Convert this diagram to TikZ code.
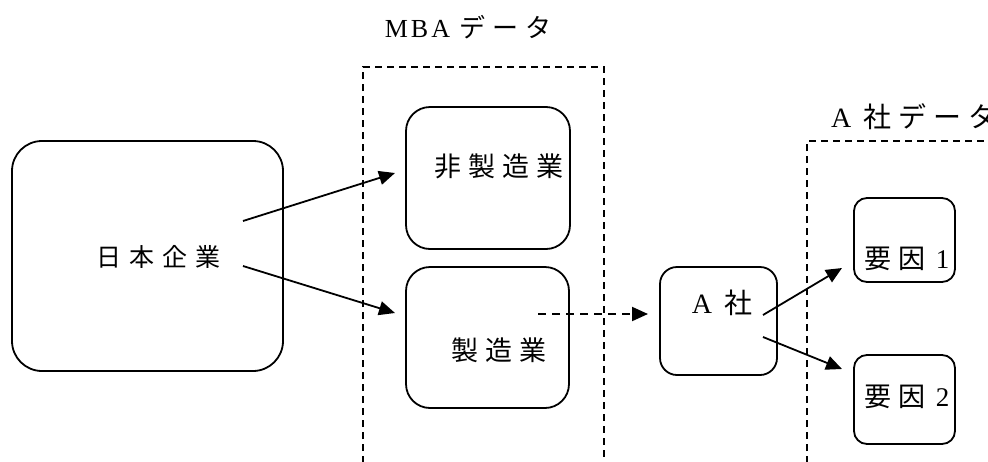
\documentclass[tikz,border=0pt]{standalone}
\usepackage{fontspec}
\setmainfont{Liberation Serif}
\newfontfamily\cjk{Noto Sans CJK JP}
\usetikzlibrary{arrows.meta}
\newcommand{\gp}{\hspace{7pt}}
\tikzset{
  box/.style={draw, line width=1.8pt, inner sep=0pt},
  txt/.style={inner sep=0pt, font=\fontsize{27}{29}\selectfont},
  conn/.style={line width=1.8pt, -{Triangle[length=16pt,width=14pt]}},
  dconn/.style={line width=2pt, dash pattern=on 8pt off 6pt, -{Triangle[length=16pt,width=14pt]}},
  frame/.style={line width=1.6pt, dash pattern=on 7pt off 5pt},
}
\begin{document}
\begin{tikzpicture}[x=1pt,y=-1pt]
\useasboundingbox (0,0) rectangle (988,461);
% dashed data frames
\draw[frame] (363,475) -- (363,67) -- (604,67) -- (604,475);
\draw[frame] (807,475) -- (807,141) -- (1000,141);
% titles
\node[txt, font=\fontsize{26}{28}\selectfont] (mbat) at (468,27) {M\hspace{3pt}B\hspace{3pt}A\hspace{9pt}{\cjk デ\gp ー\gp タ}};
\node[txt, anchor=west, font=\fontsize{28}{30}\selectfont] (asht) at (831,117) {A\hspace{12pt}{\cjk 社\hspace{7pt}デ\hspace{7pt}ー\hspace{7pt}タ}};
% boxes
\node[box, minimum width=271pt, minimum height=230pt, rounded corners=30pt] (jp) at (147.5,256) {};
\node[box, minimum width=164pt, minimum height=142pt, rounded corners=24pt] (non) at (488,178) {};
\node[box, minimum width=163pt, minimum height=141pt, rounded corners=24pt] (mfg) at (487.5,337.5) {};
\node[box, minimum width=117pt, minimum height=108pt, rounded corners=17pt] (ash) at (718.5,321) {};
\node[box, minimum width=101pt, minimum height=84pt, rounded corners=13pt] (f1) at (904.5,240) {};
\node[box, minimum width=101pt, minimum height=89pt, rounded corners=13pt] (f2) at (904.5,399.5) {};
% texts
\node[txt, font=\fontsize{25}{27}\selectfont] (jpt) at (158,257) {\cjk 日\hspace{8pt}本\hspace{8pt}企\hspace{8pt}業};
\node[txt] (nont) at (499,166) {\cjk 非\gp 製\gp 造\gp 業};
\node[txt] (mfgt) at (499,350) {\cjk 製\gp 造\gp 業};
\node[txt, font=\fontsize{28}{30}\selectfont] (asht2) at (722,303) {A\hspace{12pt}{\cjk 社}};
\node[txt] (f1t) at (907,259) {{\cjk 要\gp 因}\hspace{10pt}1};
\node[txt] (f2t) at (907,397) {{\cjk 要\gp 因}\hspace{10pt}2};
% connector end points
\coordinate (s1) at (243,221);
\coordinate (e1) at (395,173);
\coordinate (s2) at (243,266);
\coordinate (e2) at (395,313);
\coordinate (s3) at (538,314);
\coordinate (e3) at (648,314);
\coordinate (s4) at (763,315);
\coordinate (e4) at (842,268);
\coordinate (s5) at (763,337);
\coordinate (e5) at (842,369);
\draw[conn] (s1) -- (e1);
\draw[conn] (s2) -- (e2);
\draw[dconn] (s3) -- (e3);
\draw[conn] (s4) -- (e4);
\draw[conn] (s5) -- (e5);
\end{tikzpicture}
\end{document}
